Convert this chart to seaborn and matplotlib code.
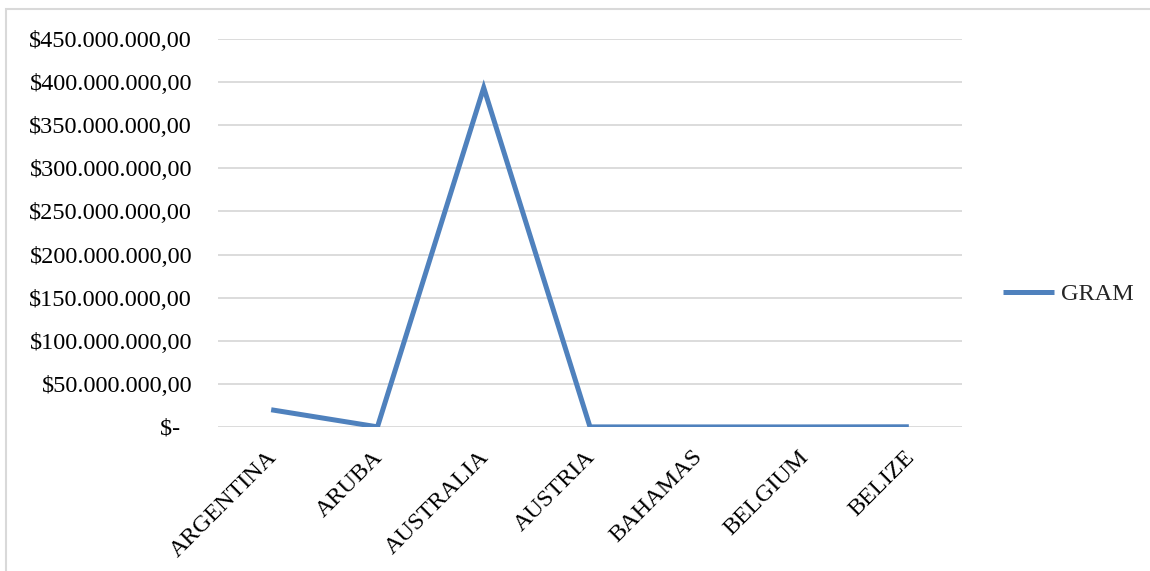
import matplotlib
matplotlib.use("Agg")
import matplotlib.pyplot as plt
from matplotlib.patches import Rectangle
from matplotlib.ticker import FuncFormatter, MultipleLocator
from matplotlib.transforms import ScaledTranslation
import pandas as pd
import seaborn as sns

countries = ["ARGENTINA", "ARUBA", "AUSTRALIA", "AUSTRIA", "BAHAMAS", "BELGIUM", "BELIZE"]
gram = [20_000_000, 150_000, 393_500_000, 120_000, 80_000, 100_000, 250_000]
series_name = "GRAM"

df = pd.DataFrame({"country": countries, "value": gram, "series": series_name})

sns.set_theme(style="white")
plt.rcParams["font.family"] = ["Liberation Serif", "DejaVu Serif"]

FS = 17.5

fig = plt.figure(figsize=(11.5, 5.71), dpi=100)
ax = fig.add_axes([0.1896, 0.2522, 0.8365 - 0.1896, 0.9317 - 0.2522])

blue = "#4F81BD"
sns.lineplot(data=df, x="country", y="value", hue="series", palette=[blue],
             sort=False, linewidth=3.6, ax=ax, legend=True)
for ln in ax.lines:
    ln.set_solid_capstyle("butt")
    ln.set_solid_joinstyle("miter")

ax.set_xlim(-0.5, len(countries) - 0.5)
ax.set_ylim(0, 450_000_000)
ax.yaxis.set_major_locator(MultipleLocator(50_000_000))


def money(v, pos):
    if abs(v) < 1:
        return "$-  "
    s = f"{v:,.2f}"
    s = s.replace(",", "X").replace(".", ",").replace("X", ".")
    return "$" + s


ax.yaxis.set_major_formatter(FuncFormatter(money))
ax.grid(axis="y", color="#D9D9D9", linewidth=1.3)
ax.grid(axis="x", visible=False)
for sp in ax.spines.values():
    sp.set_visible(False)
ax.tick_params(axis="both", length=0, labelsize=FS, colors="black")
ax.tick_params(axis="y", pad=18.7)
ax.tick_params(axis="x", pad=14)
ax.set_xlabel("")
ax.set_ylabel("")

# slanted category labels, nudged slightly left of their ticks
shift = ScaledTranslation(-5 / 100, 0, fig.dpi_scale_trans)
for lab in ax.get_xticklabels():
    lab.set_rotation(45)
    lab.set_ha("right")
    lab.set_rotation_mode("anchor")
    lab.set_transform(lab.get_transform() + shift)

handles, labels = ax.get_legend_handles_labels()
ax.legend(handles, labels, loc="center left", bbox_to_anchor=(0.853, 0.485),
          bbox_transform=fig.transFigure, frameon=False, fontsize=FS,
          handlelength=2.1, handletextpad=0.3)

# light chart-area border
fig.patches.append(Rectangle((5.5 / 1150, -0.01), 1.02, 1 - 9 / 571 + 0.01,
                             transform=fig.transFigure, fill=False,
                             edgecolor="#D9D9D9", linewidth=1.5))

fig.savefig("out.png", dpi=100)
